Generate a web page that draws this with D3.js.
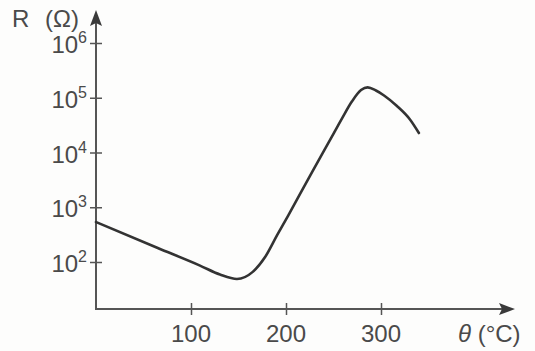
<!DOCTYPE html>
<html><head><meta charset="utf-8">
<script src="https://cdn.jsdelivr.net/npm/d3@7"></script>
<style>
html,body{margin:0;padding:0;background:#fdfdfc;}
svg{display:block;}
text{font-family:"Liberation Sans",Arial,sans-serif;fill:#4a4a4a;}
</style></head>
<body>
<svg id="c" width="535" height="351"></svg>
<script>
// Data
const theta = [0, 65, 109.5, 130.5, 148.4, 165, 178, 190.5, 202, 227, 248, 259, 269.5, 279, 286, 294.7, 303.2, 316.8, 330.5, 339.9];
const resistance = [537, 180, 86, 59, 49, 66, 123, 305, 690, 4250, 19000, 42000, 86000, 138000, 155000, 135500, 110000, 70600, 40100, 22700];
const xTicks = [100, 200, 300];
const yTicks = [1e2, 1e3, 1e4, 1e5, 1e6];
const yTickExp = ["2", "3", "4", "5", "6"];
const xTitle = "θ";
const xUnit = " (°C)";
const yTitle = "R";
const yUnit = "(Ω)";

const svg = d3.select("#c");
const axisColor = "#555";
const x = d3.scaleLinear().domain([0, 300]).range([96, 381]);
const y = d3.scaleLog().domain([1e2, 1e6]).range([262, 43]);
const x0 = x(0), yBase = 309, xEnd = 515, yTop = 10;

// axes lines
svg.append("line").attr("x1", x0).attr("x2", xEnd - 12).attr("y1", yBase).attr("y2", yBase)
  .attr("stroke", axisColor).attr("stroke-width", 2);
svg.append("line").attr("x1", x0).attr("x2", x0).attr("y1", yBase + 1).attr("y2", yTop + 12)
  .attr("stroke", axisColor).attr("stroke-width", 2);
// arrowheads
svg.append("path").attr("d", `M${xEnd},${yBase} L${xEnd-16},${yBase-6} L${xEnd-13},${yBase} L${xEnd-16},${yBase+6} Z`).attr("fill", "#3a3a3a");
svg.append("path").attr("d", `M${x0},${yTop} L${x0-6},${yTop+16} L${x0},${yTop+13} L${x0+6},${yTop+16} Z`).attr("fill", "#3a3a3a");

// x ticks via d3 axis
const gx = svg.append("g").attr("transform", `translate(0,${yBase})`)
  .call(d3.axisBottom(x).tickValues(xTicks).tickSize(0).tickFormat(""));
gx.select(".domain").remove();
gx.selectAll(".tick line").attr("y1", -6).attr("y2", 6).attr("stroke", axisColor).attr("stroke-width", 1.5);
svg.selectAll(".xl").data(xTicks).join("text")
  .attr("x", d => x(d)).attr("y", 342).attr("text-anchor", "middle")
  .attr("font-size", 24).text(d => d);

// y ticks via d3 axis
const gy = svg.append("g").attr("transform", `translate(${x0},0)`)
  .call(d3.axisLeft(y).tickValues(yTicks).tickSize(0).tickFormat(""));
gy.select(".domain").remove();
gy.selectAll(".tick line").attr("x1", -6).attr("x2", 6).attr("stroke", axisColor).attr("stroke-width", 1.5);
const yl = svg.selectAll(".yl").data(yTicks).join("text")
  .attr("x", 87).attr("y", d => y(d) + 10).attr("text-anchor", "end").attr("font-size", 24);
yl.append("tspan").text("10");
yl.append("tspan").attr("dy", -10).attr("font-size", 16).text((d, i) => yTickExp[i]);

// axis titles
svg.append("text").attr("x", 12).attr("y", 27).attr("font-size", 24).text(yTitle);
svg.append("text").attr("x", 45).attr("y", 27).attr("font-size", 24).text(yUnit);
const xt = svg.append("text").attr("x", 458).attr("y", 342).attr("font-size", 24);
xt.append("tspan").attr("font-style", "italic").text(xTitle);
xt.append("tspan").text(xUnit);

// curve
const pts = theta.map((t, i) => [t, resistance[i]]);
const line = d3.line().x(d => x(d[0])).y(d => y(d[1])).curve(d3.curveMonotoneX);
svg.append("path").attr("d", line(pts)).attr("fill", "none")
  .attr("stroke", "#333").attr("stroke-width", 2.6).attr("stroke-linecap", "round");
</script>
</body></html>
